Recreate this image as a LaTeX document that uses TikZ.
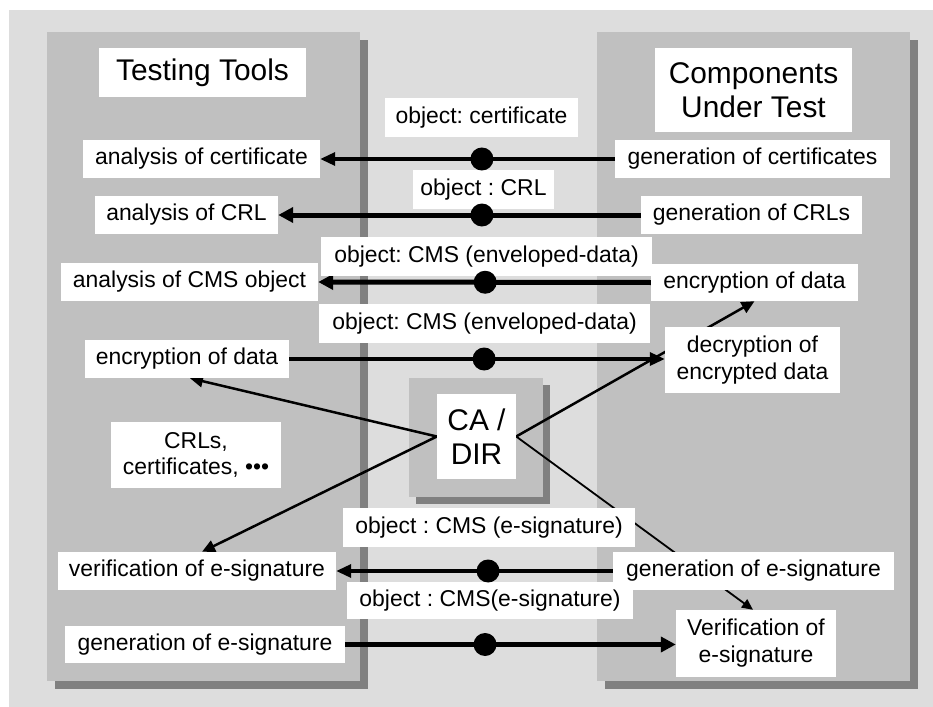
\documentclass[tikz,border=0pt]{standalone}
\usepackage{fontspec}
\setmainfont{Liberation Sans}
\usetikzlibrary{arrows.meta,calc}
\pgfdeclarelayer{bg}\pgfdeclarelayer{lines}\pgfdeclarelayer{fg}
\pgfsetlayers{bg,lines,main,fg}
\definecolor{outergray}{HTML}{DDDDDD}
\definecolor{panelgray}{HTML}{C0C0C0}
\definecolor{shadowgray}{HTML}{808080}
\frenchspacing
\begin{document}
\frenchspacing
\begin{tikzpicture}[x=1bp,y=-1bp,
 lbl/.style={fill=white,inner sep=0pt,align=center,font=\fontsize{23}{27}\selectfont},
 big/.style={fill=white,inner sep=0pt,align=center,font=\fontsize{30}{34}\selectfont},
 dot/.style={circle,fill=black,inner sep=0pt,minimum size=23bp},
 thinarrow/.style={line width=3.3bp,-{Triangle[length=15bp,width=13bp]}},
 thickarrow/.style={line width=5bp,-{Triangle[length=15bp,width=15bp]}},
 diag/.style={line width=2.5bp,-{Triangle[length=13bp,width=12bp]}},
 diagthin/.style={line width=1.8bp,-{Triangle[length=11bp,width=10bp]}},
 panel/.style={fill=panelgray},
 shadow/.style={fill=shadowgray}
]
\useasboundingbox (0,0) rectangle (933,707);
\begin{pgfonlayer}{bg}
\fill[white] (0,0) rectangle (933,707);
\fill[outergray] (9,10) rectangle (933,707);
% left panel
\fill[shadow] (55,40) rectangle (368,689);
\fill[panel] (47,32) rectangle (360,681);
% right panel
\fill[shadow] (605,40) rectangle (918,689);
\fill[panel] (597,32) rectangle (910,681);
% CA box
\fill[shadow] (416,385) rectangle (550,504);
\fill[panel] (409,378) rectangle (543,497);
\end{pgfonlayer}

% titles
\node[big,minimum width=207bp,minimum height=49bp] (tt) at (202.5,72.5) {Testing Tools};
\node[big,minimum width=197bp,minimum height=84bp] (cut) at (753.5,90) {Components\\Under Test};
\node[big,minimum width=79bp,minimum height=85bp] (ca) at (476.5,436.5) {CA /\\DIR};

% left column
\node[lbl,minimum width=237bp,minimum height=38bp] (anacert) at (201.5,159) {analysis of certificate};
\node[lbl,minimum width=183bp,minimum height=38bp] (anacrl) at (186.5,215) {analysis of CRL};
\node[lbl,minimum width=257bp,minimum height=38bp] (anacms) at (189.5,282) {analysis of CMS object};
\node[lbl,minimum width=204bp,minimum height=38bp] (encL) at (187,359) {encryption of data};
\node[lbl,minimum width=170bp,minimum height=66bp] (crls) at (196,455) {CRLs,\\certificates, •••};
\node[lbl,minimum width=278bp,minimum height=38bp] (verL) at (197,571) {verification of e-signature};
\node[lbl,minimum width=280bp,minimum height=37bp] (genL) at (205,644.5) {generation of e-signature};

% right column
\node[lbl,minimum width=275bp,minimum height=38bp] (gencert) at (752.5,159) {generation of certificates};
\node[lbl,minimum width=221bp,minimum height=38bp] (gencrl) at (751.5,215) {generation of CRLs};
\node[lbl,minimum width=207bp,minimum height=37bp] (encR) at (754.5,282.5) {encryption of data};
\node[lbl,minimum width=175bp,minimum height=66bp] (dec) at (752.5,360) {decryption of\\encrypted data};
\node[lbl,minimum width=281bp,minimum height=38bp] (genR) at (753.5,571) {generation of e-signature};
\node[lbl,minimum width=160bp,minimum height=67bp] (verR) at (756,643.5) {Verification of\\e-signature};

% object labels
\node[lbl,minimum width=193bp,minimum height=39bp] (l1) at (481.5,117.5) {object: certificate};
\node[lbl,minimum width=141bp,minimum height=39bp] (l2) at (483.5,189.5) {object : CRL};
\node[lbl,minimum width=331bp,minimum height=39bp] (l3) at (486.5,256.5) {object: CMS (enveloped-data)};
\node[lbl,minimum width=331bp,minimum height=39bp] (l4) at (484.5,323.5) {object: CMS (enveloped-data)};
\node[lbl,minimum width=292bp,minimum height=39bp] (l5) at (489,527.5) {object : CMS (e-signature)};
\node[lbl,minimum width=286bp,minimum height=37bp] (l6) at (490,600.5) {object : CMS(e-signature)};

\coordinate (e4) at (encL.east -| dec.west);
\coordinate (e6) at (genL.east -| verR.west);

\begin{pgfonlayer}{lines}
\draw[thinarrow] (gencert.west) -- (anacert.east);
\draw[thickarrow] (gencrl.west) -- (anacrl.east);
\draw[thickarrow] (encR.west) -- (anacms.east);
\draw[thinarrow] (encL.east) -- (e4);
\draw[thinarrow] (genR.west) -- (verL.east);
\draw[thickarrow] (genL.east) -- (e6);
\draw[diag] (ca.west) -- ([xshift=3bp]encL.south);
\draw[diag] (ca.west) -- ([xshift=5bp]verL.north);
\draw[diag] (ca.east) -- (encR.south);
\draw[diagthin] (ca.east) -- ([xshift=-3bp]verR.north);
\end{pgfonlayer}

\begin{pgfonlayer}{fg}
\node[dot] (d1) at ($(gencert.west)!0.451!(anacert.east)$) {};
\node[dot] (d2) at ($(gencrl.west)!0.438!(anacrl.east)$) {};
\node[dot] (d3) at ($(encR.west)!0.498!(anacms.east)$) {};
\node[dot] (d4) at ($(encL.east)!0.519!(e4)$) {};
\node[dot] (d5) at ($(genR.west)!0.451!(verL.east)$) {};
\node[dot] (d6) at ($(genL.east)!0.423!(e6)$) {};
\end{pgfonlayer}
\end{tikzpicture}
\end{document}
